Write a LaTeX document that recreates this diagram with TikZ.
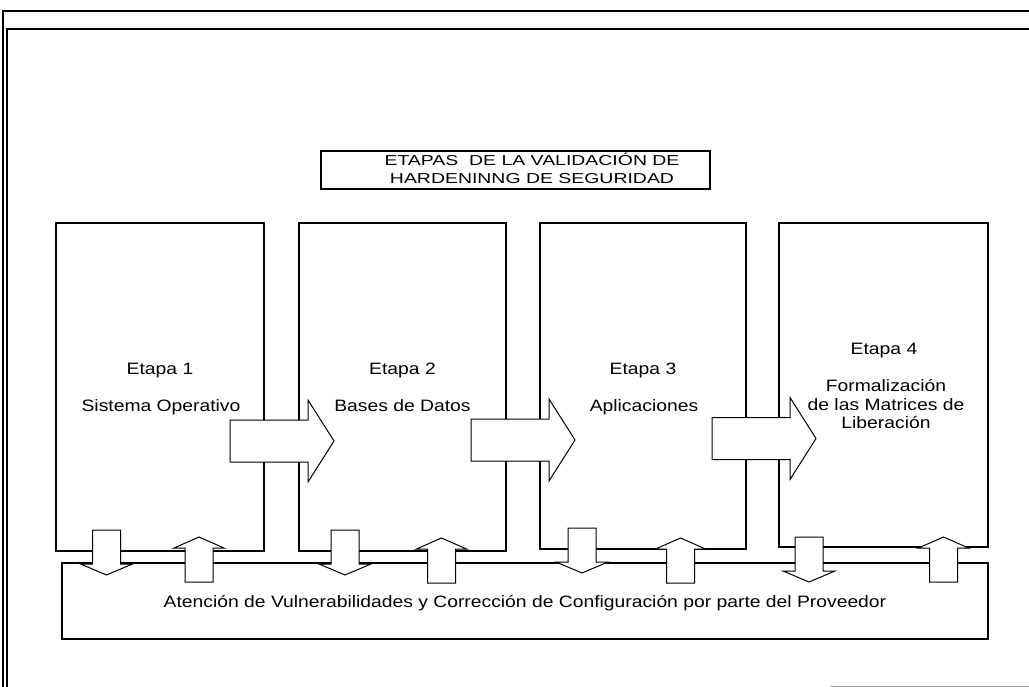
\documentclass[tikz,border=0pt]{standalone}
\usepackage{fontspec}
\setmainfont[FakeStretch=1.17]{Liberation Sans}
\newfontfamily\titlefont[FakeStretch=1.35]{Liberation Sans}
\begin{document}
\begin{tikzpicture}[x=1pt,y=-1pt,
  box/.style={draw, line width=1.1pt, fill=white, inner sep=0pt},
  fatarrow/.style={draw, line width=1pt, fill=white, line join=miter},
  lbl/.style={font=\fontsize{16.5}{18}\selectfont, anchor=base, inner sep=0pt},
  ttl/.style={font=\titlefont\fontsize{14.4}{17.5}\selectfont, anchor=base, inner sep=0pt, align=center},
  frameline/.style={line width=1.2pt},
  rightfat/.pic={\draw[fatarrow] (0,-21) -- (78,-21) -- (78,-41) -- (104,0) -- (78,41) -- (78,21) -- (0,21) -- cycle;},
  downfat/.pic={\draw[fatarrow] (-14,0) -- (14,0) -- (14,34) -- (26,34) -- (0,45) -- (-26,34) -- (-14,34) -- cycle;},
  upfat/.pic={\draw[fatarrow] (-14,0) -- (14,0) -- (14,-34) -- (25,-34) -- (0,-45) -- (-25,-34) -- (-14,-34) -- cycle;}
]
\useasboundingbox (0,0) rectangle (1029,687);
% page frame
\draw[frameline] (3,687) -- (3,11) -- (1029,11);
\draw[frameline] (7,687) -- (7,29) -- (1029,29);
\draw[line width=0.6pt, black!40] (830,686) -- (1029,686);
% title
\node[box, minimum width=389pt, minimum height=38pt] (title) at (515.5,170) {};
\node[ttl] (titletext) at (532,183.5) {ETAPAS\ \ DE LA VALIDACIÓN DE\\HARDENINNG DE SEGURIDAD};
% stage boxes
\node[box, minimum width=208pt, minimum height=328pt] (s1) at (160,387) {};
\node[box, minimum width=207pt, minimum height=328pt] (s2) at (402.5,387) {};
\node[box, minimum width=206pt, minimum height=326pt] (s3) at (643,386) {};
\node[box, minimum width=209pt, minimum height=324pt] (s4) at (883.5,385) {};
% bottom box
\node[box, minimum width=926pt, minimum height=76pt] (prov) at (525,601) {};
% horizontal block arrows
\pic (r1) at (230,441) {rightfat};
\pic (r2) at (471,440) {rightfat};
\pic (r3) at (712,438.5) {rightfat};
% vertical block arrows
\pic (d1) at (106.5,530) {downfat};
\pic (d2) at (345,530) {downfat};
\pic (d3) at (582,528) {downfat};
\pic (d4) at (809,537) {downfat};
\pic (u1) at (199,582) {upfat};
\pic (u2) at (441.5,583) {upfat};
\pic (u3) at (680.5,583) {upfat};
\pic (u4) at (943.5,582) {upfat};
% texts
\node[lbl] (e1) at (160,374) {Etapa 1};
\node[lbl] (t1) at (161,411) {Sistema Operativo};
\node[lbl] (e2) at (402.5,374) {Etapa 2};
\node[lbl] (t2) at (402.5,411) {Bases de Datos};
\node[lbl] (e3) at (643,374) {Etapa 3};
\node[lbl] (t3) at (644,411) {Aplicaciones};
\node[lbl] (e4) at (884,355) {Etapa 4};
\node[lbl, align=center] (t4) at (886,428) {Formalización\\de las Matrices de\\Liberación};
\node[lbl] (bt) at (525,607) {Atención de Vulnerabilidades y Corrección de Configuración por parte del Proveedor};
\end{tikzpicture}
\end{document}
